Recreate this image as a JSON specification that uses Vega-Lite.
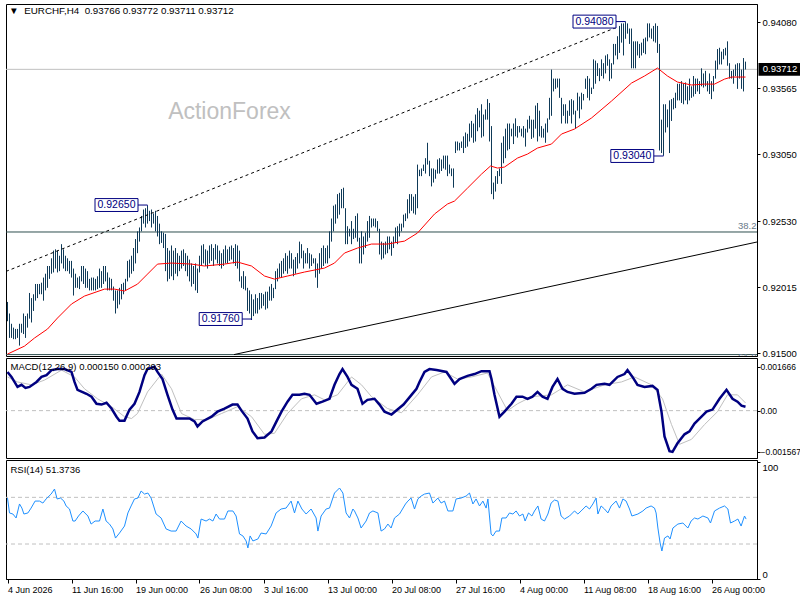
{
  "$schema": "https://vega.github.io/schema/vega-lite/v6.json",
  "background": "white",
  "padding": {"left": 2, "top": 3, "right": 0, "bottom": 0},
  "spacing": 2,
  "bounds": "flush",
  "config": {
    "font": "Liberation Sans",
    "view": {"stroke": "black", "strokeWidth": 1},
    "axis": {"grid": false, "labelFont": "Liberation Sans", "labelFontSize": 9.5, "labelColor": "black", "tickColor": "black", "domainColor": "black", "tickSize": 3, "labelPadding": 2}
  },
  "datasets": {
    "bars": [
      {"i":0,"h":0.9190,"l":0.9175},{"i":1,"h":0.9181,"l":0.9162},{"i":2,"h":0.9173,"l":0.9162},{"i":3,"h":0.9170,"l":0.9161},{"i":4,"h":0.9169,"l":0.9161},
      {"i":5,"h":0.9169,"l":0.9162},{"i":6,"h":0.9173,"l":0.9156},{"i":7,"h":0.9173,"l":0.9166},{"i":8,"h":0.9181,"l":0.9165},{"i":9,"h":0.9179,"l":0.9162},
      {"i":10,"h":0.9181,"l":0.9170},{"i":11,"h":0.9197,"l":0.9177},{"i":12,"h":0.9193,"l":0.9174},{"i":13,"h":0.9196,"l":0.9183},{"i":14,"h":0.9204,"l":0.9191},
      {"i":15,"h":0.9204,"l":0.9193},{"i":16,"h":0.9204,"l":0.9196},{"i":17,"h":0.9205,"l":0.9196},{"i":18,"h":0.9209,"l":0.9191},{"i":19,"h":0.9212,"l":0.9199},
      {"i":20,"h":0.9218,"l":0.9201},{"i":21,"h":0.9218,"l":0.9208},{"i":22,"h":0.9224,"l":0.9212},{"i":23,"h":0.9230,"l":0.9213},{"i":24,"h":0.9231,"l":0.9216},
      {"i":25,"h":0.9230,"l":0.9213},{"i":26,"h":0.9226,"l":0.9214},{"i":27,"h":0.9235,"l":0.9220},{"i":28,"h":0.9231,"l":0.9216},{"i":29,"h":0.9226,"l":0.9214},
      {"i":30,"h":0.9224,"l":0.9214},{"i":31,"h":0.9222,"l":0.9212},{"i":32,"h":0.9222,"l":0.9209},{"i":33,"h":0.9216,"l":0.9195},{"i":34,"h":0.9212,"l":0.9201},
      {"i":35,"h":0.9209,"l":0.9201},{"i":36,"h":0.9210,"l":0.9200},{"i":37,"h":0.9218,"l":0.9206},{"i":38,"h":0.9218,"l":0.9204},{"i":39,"h":0.9216,"l":0.9201},
      {"i":40,"h":0.9214,"l":0.9201},{"i":41,"h":0.9208,"l":0.9199},{"i":42,"h":0.9209,"l":0.9199},{"i":43,"h":0.9209,"l":0.9199},{"i":44,"h":0.9208,"l":0.9199},
      {"i":45,"h":0.9210,"l":0.9200},{"i":46,"h":0.9216,"l":0.9201},{"i":47,"h":0.9214,"l":0.9201},{"i":48,"h":0.9218,"l":0.9204},{"i":49,"h":0.9218,"l":0.9206},
      {"i":50,"h":0.9213,"l":0.9199},{"i":51,"h":0.9209,"l":0.9199},{"i":52,"h":0.9208,"l":0.9199},{"i":53,"h":0.9202,"l":0.9191},{"i":54,"h":0.9199,"l":0.9181},
      {"i":55,"h":0.9199,"l":0.9185},{"i":56,"h":0.9201,"l":0.9188},{"i":57,"h":0.9204,"l":0.9192},{"i":58,"h":0.9205,"l":0.9196},{"i":59,"h":0.9208,"l":0.9199},
      {"i":60,"h":0.9222,"l":0.9206},{"i":61,"h":0.9223,"l":0.9209},{"i":62,"h":0.9226,"l":0.9212},{"i":63,"h":0.9232,"l":0.9214},{"i":64,"h":0.9239,"l":0.9220},
      {"i":65,"h":0.9245,"l":0.9228},{"i":66,"h":0.9248,"l":0.9237},{"i":67,"h":0.9257,"l":0.9245},{"i":68,"h":0.9262,"l":0.9251},{"i":69,"h":0.9263,"l":0.9248},
      {"i":70,"h":0.9265,"l":0.9251},{"i":71,"h":0.9261,"l":0.9253},{"i":72,"h":0.9262,"l":0.9248},{"i":73,"h":0.9259,"l":0.9251},{"i":74,"h":0.9261,"l":0.9245},
      {"i":75,"h":0.9257,"l":0.9241},{"i":76,"h":0.9251,"l":0.9235},{"i":77,"h":0.9245,"l":0.9236},{"i":78,"h":0.9244,"l":0.9232},{"i":79,"h":0.9243,"l":0.9214},
      {"i":80,"h":0.9232,"l":0.9206},{"i":81,"h":0.9230,"l":0.9208},{"i":82,"h":0.9234,"l":0.9210},{"i":83,"h":0.9230,"l":0.9207},{"i":84,"h":0.9232,"l":0.9212},
      {"i":85,"h":0.9228,"l":0.9210},{"i":86,"h":0.9226,"l":0.9214},{"i":87,"h":0.9230,"l":0.9216},{"i":88,"h":0.9231,"l":0.9218},{"i":89,"h":0.9228,"l":0.9214},
      {"i":90,"h":0.9226,"l":0.9210},{"i":91,"h":0.9223,"l":0.9206},{"i":92,"h":0.9220,"l":0.9202},{"i":93,"h":0.9218,"l":0.9204},{"i":94,"h":0.9220,"l":0.9199},
      {"i":95,"h":0.9216,"l":0.9197},{"i":96,"h":0.9226,"l":0.9213},{"i":97,"h":0.9234,"l":0.9218},{"i":98,"h":0.9235,"l":0.9220},{"i":99,"h":0.9231,"l":0.9218},
      {"i":100,"h":0.9230,"l":0.9216},{"i":101,"h":0.9234,"l":0.9220},{"i":102,"h":0.9235,"l":0.9222},{"i":103,"h":0.9232,"l":0.9218},{"i":104,"h":0.9235,"l":0.9223},
      {"i":105,"h":0.9234,"l":0.9220},{"i":106,"h":0.9230,"l":0.9218},{"i":107,"h":0.9228,"l":0.9216},{"i":108,"h":0.9231,"l":0.9218},{"i":109,"h":0.9234,"l":0.9220},
      {"i":110,"h":0.9231,"l":0.9220},{"i":111,"h":0.9233,"l":0.9222},{"i":112,"h":0.9234,"l":0.9223},{"i":113,"h":0.9232,"l":0.9220},{"i":114,"h":0.9235,"l":0.9218},
      {"i":115,"h":0.9234,"l":0.9216},{"i":116,"h":0.9230,"l":0.9206},{"i":117,"h":0.9210,"l":0.9201},{"i":118,"h":0.9214,"l":0.9200},{"i":119,"h":0.9210,"l":0.9199},
      {"i":120,"h":0.9201,"l":0.9183},{"i":121,"h":0.9199,"l":0.9181},{"i":122,"h":0.9196,"l":0.9176},{"i":123,"h":0.9192,"l":0.9179},{"i":124,"h":0.9196,"l":0.9181},
      {"i":125,"h":0.9193,"l":0.9181},{"i":126,"h":0.9197,"l":0.9184},{"i":127,"h":0.9197,"l":0.9185},{"i":128,"h":0.9196,"l":0.9187},{"i":129,"h":0.9198,"l":0.9184},
      {"i":130,"h":0.9198,"l":0.9185},{"i":131,"h":0.9202,"l":0.9191},{"i":132,"h":0.9204,"l":0.9191},{"i":133,"h":0.9201,"l":0.9193},{"i":134,"h":0.9214,"l":0.9200},
      {"i":135,"h":0.9216,"l":0.9206},{"i":136,"h":0.9220,"l":0.9209},{"i":137,"h":0.9222,"l":0.9209},{"i":138,"h":0.9224,"l":0.9212},{"i":139,"h":0.9228,"l":0.9214},
      {"i":140,"h":0.9226,"l":0.9212},{"i":141,"h":0.9230,"l":0.9216},{"i":142,"h":0.9228,"l":0.9216},{"i":143,"h":0.9223,"l":0.9210},{"i":144,"h":0.9225,"l":0.9212},
      {"i":145,"h":0.9228,"l":0.9216},{"i":146,"h":0.9237,"l":0.9220},{"i":147,"h":0.9235,"l":0.9224},{"i":148,"h":0.9230,"l":0.9216},{"i":149,"h":0.9228,"l":0.9220},
      {"i":150,"h":0.9232,"l":0.9220},{"i":151,"h":0.9228,"l":0.9216},{"i":152,"h":0.9227,"l":0.9218},{"i":153,"h":0.9224,"l":0.9220},{"i":154,"h":0.9224,"l":0.9209},
      {"i":155,"h":0.9220,"l":0.9201},{"i":156,"h":0.9228,"l":0.9212},{"i":157,"h":0.9232,"l":0.9216},{"i":158,"h":0.9234,"l":0.9218},{"i":159,"h":0.9232,"l":0.9220},
      {"i":160,"h":0.9234,"l":0.9220},{"i":161,"h":0.9245,"l":0.9224},{"i":162,"h":0.9255,"l":0.9237},{"i":163,"h":0.9265,"l":0.9245},{"i":164,"h":0.9266,"l":0.9251},
      {"i":165,"h":0.9274,"l":0.9255},{"i":166,"h":0.9275,"l":0.9258},{"i":167,"h":0.9278,"l":0.9263},{"i":168,"h":0.9279,"l":0.9263},{"i":169,"h":0.9263,"l":0.9235},
      {"i":170,"h":0.9249,"l":0.9235},{"i":171,"h":0.9247,"l":0.9241},{"i":172,"h":0.9253,"l":0.9235},{"i":173,"h":0.9247,"l":0.9239},{"i":174,"h":0.9257,"l":0.9240},
      {"i":175,"h":0.9259,"l":0.9237},{"i":176,"h":0.9240,"l":0.9220},{"i":177,"h":0.9245,"l":0.9220},{"i":178,"h":0.9241,"l":0.9227},{"i":179,"h":0.9244,"l":0.9232},
      {"i":180,"h":0.9253,"l":0.9237},{"i":181,"h":0.9257,"l":0.9240},{"i":182,"h":0.9255,"l":0.9248},{"i":183,"h":0.9255,"l":0.9249},{"i":184,"h":0.9255,"l":0.9248},
      {"i":185,"h":0.9253,"l":0.9245},{"i":186,"h":0.9247,"l":0.9227},{"i":187,"h":0.9237,"l":0.9223},{"i":188,"h":0.9236,"l":0.9224},{"i":189,"h":0.9237,"l":0.9227},
      {"i":190,"h":0.9241,"l":0.9228},{"i":191,"h":0.9241,"l":0.9231},{"i":192,"h":0.9237,"l":0.9226},{"i":193,"h":0.9241,"l":0.9232},{"i":194,"h":0.9248,"l":0.9236},
      {"i":195,"h":0.9249,"l":0.9235},{"i":196,"h":0.9251,"l":0.9241},{"i":197,"h":0.9251,"l":0.9245},{"i":198,"h":0.9258,"l":0.9248},{"i":199,"h":0.9259,"l":0.9253},
      {"i":200,"h":0.9270,"l":0.9255},{"i":201,"h":0.9274,"l":0.9259},{"i":202,"h":0.9274,"l":0.9261},{"i":203,"h":0.9272,"l":0.9259},{"i":204,"h":0.9274,"l":0.9258},
      {"i":205,"h":0.9297,"l":0.9263},{"i":206,"h":0.9293,"l":0.9288},{"i":207,"h":0.9294,"l":0.9288},{"i":208,"h":0.9297,"l":0.9292},{"i":209,"h":0.9302,"l":0.9290},
      {"i":210,"h":0.9314,"l":0.9297},{"i":211,"h":0.9300,"l":0.9288},{"i":212,"h":0.9294,"l":0.9280},{"i":213,"h":0.9294,"l":0.9283},{"i":214,"h":0.9293,"l":0.9286},
      {"i":215,"h":0.9301,"l":0.9290},{"i":216,"h":0.9302,"l":0.9290},{"i":217,"h":0.9301,"l":0.9292},{"i":218,"h":0.9304,"l":0.9294},{"i":219,"h":0.9304,"l":0.9293},
      {"i":220,"h":0.9304,"l":0.9288},{"i":221,"h":0.9297,"l":0.9290},{"i":222,"h":0.9294,"l":0.9288},{"i":223,"h":0.9294,"l":0.9279},{"i":224,"h":0.9315,"l":0.9306},
      {"i":225,"h":0.9315,"l":0.9308},{"i":226,"h":0.9314,"l":0.9308},{"i":227,"h":0.9315,"l":0.9310},{"i":228,"h":0.9319,"l":0.9306},{"i":229,"h":0.9322,"l":0.9310},
      {"i":230,"h":0.9321,"l":0.9311},{"i":231,"h":0.9329,"l":0.9315},{"i":232,"h":0.9331,"l":0.9318},{"i":233,"h":0.9329,"l":0.9314},{"i":234,"h":0.9336,"l":0.9315},
      {"i":235,"h":0.9341,"l":0.9323},{"i":236,"h":0.9339,"l":0.9326},{"i":237,"h":0.9344,"l":0.9318},{"i":238,"h":0.9336,"l":0.9319},{"i":239,"h":0.9340,"l":0.9332},
      {"i":240,"h":0.9348,"l":0.9332},{"i":241,"h":0.9345,"l":0.9315},{"i":242,"h":0.9327,"l":0.9274},{"i":243,"h":0.9283,"l":0.9270},{"i":244,"h":0.9288,"l":0.9276},
      {"i":245,"h":0.9292,"l":0.9282},{"i":246,"h":0.9294,"l":0.9288},{"i":247,"h":0.9314,"l":0.9282},{"i":248,"h":0.9319,"l":0.9298},{"i":249,"h":0.9325,"l":0.9302},
      {"i":250,"h":0.9329,"l":0.9308},{"i":251,"h":0.9329,"l":0.9309},{"i":252,"h":0.9325,"l":0.9319},{"i":253,"h":0.9329,"l":0.9313},{"i":254,"h":0.9333,"l":0.9319},
      {"i":255,"h":0.9327,"l":0.9318},{"i":256,"h":0.9327,"l":0.9322},{"i":257,"h":0.9325,"l":0.9319},{"i":258,"h":0.9327,"l":0.9318},{"i":259,"h":0.9325,"l":0.9311},
      {"i":260,"h":0.9332,"l":0.9322},{"i":261,"h":0.9335,"l":0.9325},{"i":262,"h":0.9332,"l":0.9317},{"i":263,"h":0.9332,"l":0.9318},{"i":264,"h":0.9343,"l":0.9325},
      {"i":265,"h":0.9345,"l":0.9315},{"i":266,"h":0.9339,"l":0.9319},{"i":267,"h":0.9327,"l":0.9318},{"i":268,"h":0.9325,"l":0.9318},{"i":269,"h":0.9329,"l":0.9314},
      {"i":270,"h":0.9333,"l":0.9322},{"i":271,"h":0.9349,"l":0.9332},{"i":272,"h":0.9371,"l":0.9335},{"i":273,"h":0.9364,"l":0.9354},{"i":274,"h":0.9364,"l":0.9356},
      {"i":275,"h":0.9364,"l":0.9357},{"i":276,"h":0.9364,"l":0.9349},{"i":277,"h":0.9349,"l":0.9329},{"i":278,"h":0.9344,"l":0.9335},{"i":279,"h":0.9344,"l":0.9329},
      {"i":280,"h":0.9339,"l":0.9329},{"i":281,"h":0.9347,"l":0.9335},{"i":282,"h":0.9348,"l":0.9329},{"i":283,"h":0.9347,"l":0.9336},{"i":284,"h":0.9339,"l":0.9325},
      {"i":285,"h":0.9353,"l":0.9339},{"i":286,"h":0.9350,"l":0.9333},{"i":287,"h":0.9353,"l":0.9340},{"i":288,"h":0.9352,"l":0.9347},{"i":289,"h":0.9364,"l":0.9356},
      {"i":290,"h":0.9366,"l":0.9349},{"i":291,"h":0.9364,"l":0.9347},{"i":292,"h":0.9357,"l":0.9352},{"i":293,"h":0.9379,"l":0.9356},{"i":294,"h":0.9378,"l":0.9360},
      {"i":295,"h":0.9376,"l":0.9366},{"i":296,"h":0.9372,"l":0.9362},{"i":297,"h":0.9379,"l":0.9366},{"i":298,"h":0.9376,"l":0.9364},{"i":299,"h":0.9382,"l":0.9368},
      {"i":300,"h":0.9383,"l":0.9374},{"i":301,"h":0.9379,"l":0.9362},{"i":302,"h":0.9376,"l":0.9364},{"i":303,"h":0.9391,"l":0.9375},{"i":304,"h":0.9391,"l":0.9382},
      {"i":305,"h":0.9397,"l":0.9379},{"i":306,"h":0.9405,"l":0.9384},{"i":307,"h":0.9407,"l":0.9392},{"i":308,"h":0.9407,"l":0.9382},{"i":309,"h":0.9408,"l":0.9395},
      {"i":310,"h":0.9407,"l":0.9399},{"i":311,"h":0.9403,"l":0.9391},{"i":312,"h":0.9403,"l":0.9372},{"i":313,"h":0.9393,"l":0.9372},{"i":314,"h":0.9393,"l":0.9372},
      {"i":315,"h":0.9393,"l":0.9382},{"i":316,"h":0.9391,"l":0.9380},{"i":317,"h":0.9392,"l":0.9382},{"i":318,"h":0.9395,"l":0.9384},{"i":319,"h":0.9396,"l":0.9383},
      {"i":320,"h":0.9407,"l":0.9393},{"i":321,"h":0.9407,"l":0.9396},{"i":322,"h":0.9403,"l":0.9395},{"i":323,"h":0.9405,"l":0.9393},{"i":324,"h":0.9407,"l":0.9392},
      {"i":325,"h":0.9405,"l":0.9384},{"i":326,"h":0.9391,"l":0.9308},{"i":327,"h":0.9332,"l":0.9306},{"i":328,"h":0.9344,"l":0.9304},{"i":329,"h":0.9344,"l":0.9322},
      {"i":330,"h":0.9340,"l":0.9326},{"i":331,"h":0.9347,"l":0.9306},{"i":332,"h":0.9348,"l":0.9331},{"i":333,"h":0.9349,"l":0.9340},{"i":334,"h":0.9353,"l":0.9341},
      {"i":335,"h":0.9360,"l":0.9347},{"i":336,"h":0.9360,"l":0.9347},{"i":337,"h":0.9362,"l":0.9345},{"i":338,"h":0.9360,"l":0.9344},{"i":339,"h":0.9361,"l":0.9347},
      {"i":340,"h":0.9358,"l":0.9344},{"i":341,"h":0.9364,"l":0.9347},{"i":342,"h":0.9358,"l":0.9349},{"i":343,"h":0.9366,"l":0.9350},{"i":344,"h":0.9364,"l":0.9352},
      {"i":345,"h":0.9364,"l":0.9354},{"i":346,"h":0.9362,"l":0.9352},{"i":347,"h":0.9372,"l":0.9358},{"i":348,"h":0.9368,"l":0.9357},{"i":349,"h":0.9370,"l":0.9358},
      {"i":350,"h":0.9362,"l":0.9354},{"i":351,"h":0.9368,"l":0.9352},{"i":352,"h":0.9362,"l":0.9348},{"i":353,"h":0.9366,"l":0.9354},{"i":354,"h":0.9378,"l":0.9364},
      {"i":355,"h":0.9387,"l":0.9371},{"i":356,"h":0.9388,"l":0.9375},{"i":357,"h":0.9385,"l":0.9375},{"i":358,"h":0.9387,"l":0.9379},{"i":359,"h":0.9388,"l":0.9382},
      {"i":360,"h":0.9393,"l":0.9374},{"i":361,"h":0.9376,"l":0.9364},{"i":362,"h":0.9370,"l":0.9364},{"i":363,"h":0.9371,"l":0.9360},{"i":364,"h":0.9375,"l":0.9366},
      {"i":365,"h":0.9376,"l":0.9356},{"i":366,"h":0.9376,"l":0.9364},{"i":367,"h":0.9371,"l":0.9356},{"i":368,"h":0.9380,"l":0.9354},{"i":369,"h":0.93772,"l":0.93711}
    ],
    "ma": [
      {"i":0,"p":0.91494},{"i":8.5,"p":0.91556},{"i":13.5,"p":0.91619},{"i":20,"p":0.91689},{"i":25,"p":0.91775},{"i":32,"p":0.91884},
      {"i":38.5,"p":0.91946},{"i":48.5,"p":0.92000},{"i":53.5,"p":0.92000},{"i":58.5,"p":0.91985},{"i":65,"p":0.92039},{"i":70,"p":0.92117},
      {"i":75,"p":0.92195},{"i":82,"p":0.92203},{"i":92,"p":0.92195},{"i":98.5,"p":0.92180},{"i":108.5,"p":0.92195},{"i":115,"p":0.92211},
      {"i":122,"p":0.92180},{"i":128.5,"p":0.92102},{"i":133.5,"p":0.92078},{"i":140,"p":0.92102},{"i":148.5,"p":0.92133},{"i":158.5,"p":0.92164},
      {"i":163.5,"p":0.92203},{"i":168.5,"p":0.92281},{"i":175,"p":0.92320},{"i":182,"p":0.92351},{"i":190,"p":0.92351},{"i":198.5,"p":0.92374},
      {"i":205,"p":0.92437},{"i":213.5,"p":0.92585},{"i":220,"p":0.92663},{"i":223.5,"p":0.92686},{"i":230,"p":0.92787},{"i":237,"p":0.92896},
      {"i":241.5,"p":0.92959},{"i":245,"p":0.92943},{"i":248.5,"p":0.92951},{"i":255,"p":0.93021},{"i":260,"p":0.93052},{"i":265,"p":0.93099},
      {"i":272,"p":0.93130},{"i":277,"p":0.93208},{"i":283.5,"p":0.93247},{"i":292,"p":0.93333},{"i":302,"p":0.93465},{"i":312,"p":0.93605},
      {"i":318.5,"p":0.93660},{"i":325,"p":0.93722},{"i":330,"p":0.93660},{"i":335,"p":0.93613},{"i":342,"p":0.93590},{"i":348.5,"p":0.93597},
      {"i":353.5,"p":0.93597},{"i":358.5,"p":0.93636},{"i":362,"p":0.93652},{"i":369,"p":0.93652}
    ],
    "macd": [
      {"i":0,"v":0.00147},{"i":2,"v":0.00128},{"i":5,"v":0.0009},{"i":7,"v":0.00098},{"i":9,"v":0.00086},{"i":11,"v":0.0009},{"i":14.5,"v":0.00109},
      {"i":17,"v":0.00128},{"i":19.5,"v":0.00135},{"i":22,"v":0.00154},{"i":25,"v":0.00158},{"i":28.5,"v":0.00158},{"i":32,"v":0.00147},{"i":33.5,"v":0.00109},
      {"i":35,"v":0.00079},{"i":39.5,"v":0.00064},{"i":42,"v":0.00053},{"i":44.5,"v":0.00026},{"i":47,"v":0.00023},{"i":49.5,"v":0.0003},{"i":52,"v":0.00008},
      {"i":54.5,"v":-0.00023},{"i":56,"v":-0.00038},{"i":58.5,"v":-0.00038},{"i":61,"v":0.00004},{"i":63.5,"v":0.00026},{"i":66,"v":0.00071},{"i":68.5,"v":0.00135},
      {"i":70,"v":0.00158},{"i":73.5,"v":0.001666},{"i":75,"v":0.00147},{"i":77.5,"v":0.0012},{"i":80,"v":0.0006},{"i":82.5,"v":0.00004},{"i":84.5,"v":-0.0003},
      {"i":87.5,"v":-0.0003},{"i":91,"v":-0.0003},{"i":93.5,"v":-0.00041},{"i":95,"v":-0.0006},{"i":97.5,"v":-0.00041},{"i":102,"v":-0.00023},{"i":105,"v":-0.00004},
      {"i":108.5,"v":0.00008},{"i":112.5,"v":0.00023},{"i":115,"v":0.00023},{"i":117,"v":0},{"i":120,"v":-0.0003},{"i":122.5,"v":-0.00079},{"i":125,"v":-0.00105},
      {"i":128.5,"v":-0.00102},{"i":132,"v":-0.00079},{"i":134.5,"v":-0.00041},{"i":137,"v":-0.00004},{"i":140,"v":0.00034},{"i":142.5,"v":0.0006},{"i":146,"v":0.0006},
      {"i":148.5,"v":0.00064},{"i":151,"v":0.0006},{"i":154.5,"v":0.00026},{"i":157.5,"v":0.00034},{"i":161,"v":0.00045},{"i":163.5,"v":0.00098},{"i":166,"v":0.00139},
      {"i":167.5,"v":0.00158},{"i":170,"v":0.00128},{"i":172,"v":0.00098},{"i":175,"v":0.00083},{"i":177.5,"v":0.00026},{"i":180,"v":0.00041},{"i":183.5,"v":0.00045},
      {"i":186,"v":0.00023},{"i":188.5,"v":-0.00004},{"i":192,"v":-0.00015},{"i":195,"v":0.00004},{"i":198,"v":0.00023},{"i":202,"v":0.0006},{"i":204.5,"v":0.00083},
      {"i":206,"v":0.00109},{"i":208.5,"v":0.00147},{"i":211,"v":0.00158},{"i":214.5,"v":0.00154},{"i":219.5,"v":0.00147},{"i":223.5,"v":0.00102},{"i":226,"v":0.0012},
      {"i":230,"v":0.00132},{"i":233.5,"v":0.00139},{"i":237,"v":0.0015},{"i":241,"v":0.0015},{"i":242,"v":0.0012},{"i":243.5,"v":0.0006},{"i":246,"v":-0.00023},
      {"i":248.5,"v":-0.00004},{"i":252,"v":0.00026},{"i":254.5,"v":0.00053},{"i":257.5,"v":0.00053},{"i":260,"v":0.00045},{"i":262.5,"v":0.00053},{"i":265,"v":0.00071},
      {"i":267.5,"v":0.00053},{"i":270,"v":0.00045},{"i":272.5,"v":0.0009},{"i":275,"v":0.0012},{"i":277.5,"v":0.00083},{"i":280,"v":0.00071},{"i":283.5,"v":0.00064},
      {"i":288.5,"v":0.00068},{"i":292,"v":0.00083},{"i":294.5,"v":0.00098},{"i":298.5,"v":0.00102},{"i":301,"v":0.00098},{"i":305,"v":0.00128},{"i":308.5,"v":0.00139},
      {"i":310,"v":0.00154},{"i":312.5,"v":0.00128},{"i":315,"v":0.00098},{"i":318.5,"v":0.0009},{"i":322.5,"v":0.00094},{"i":325,"v":0.00079},{"i":327,"v":-0.00004},
      {"i":328.5,"v":-0.00098},{"i":331,"v":-0.00154},{"i":332.5,"v":-0.001567},{"i":335,"v":-0.00124},{"i":338.5,"v":-0.0009},{"i":341,"v":-0.00079},{"i":343.5,"v":-0.00049},
      {"i":347,"v":-0.00023},{"i":349.5,"v":-0.00004},{"i":352.5,"v":0.00004},{"i":356,"v":0.00045},{"i":359.5,"v":0.00079},{"i":362.5,"v":0.00045},{"i":365,"v":0.00034},
      {"i":367,"v":0.00019},{"i":369,"v":0.00015}
    ],
    "sig": [
      {"i":0,"v":0.00128},{"i":5,"v":0.00109},{"i":12,"v":0.00098},{"i":18.5,"v":0.00116},{"i":27,"v":0.00154},{"i":33.5,"v":0.00128},{"i":38.5,"v":0.00083},
      {"i":45,"v":0.00045},{"i":52,"v":0.00015},{"i":58.5,"v":-0.00023},{"i":62,"v":-0.0003},{"i":65,"v":-0.00011},{"i":70,"v":0.00071},{"i":77,"v":0.00139},
      {"i":82,"v":0.00083},{"i":87,"v":-0.00011},{"i":93.5,"v":-0.00034},{"i":100,"v":-0.00034},{"i":107,"v":-0.00011},{"i":115,"v":0.00015},{"i":122,"v":-0.00023},
      {"i":128.5,"v":-0.0009},{"i":133.5,"v":-0.00086},{"i":140,"v":-0.00011},{"i":147,"v":0.00045},{"i":153.5,"v":0.0006},{"i":158.5,"v":0.00041},{"i":165,"v":0.0006},
      {"i":172,"v":0.00128},{"i":177,"v":0.00098},{"i":182,"v":0.00053},{"i":190,"v":0.00008},{"i":197,"v":-0.00008},{"i":205,"v":0.0006},{"i":212,"v":0.00128},
      {"i":218.5,"v":0.00147},{"i":225,"v":0.0012},{"i":232,"v":0.00128},{"i":240,"v":0.00143},{"i":245,"v":0.00071},{"i":250,"v":0},{"i":255,"v":0.00026},
      {"i":262,"v":0.00053},{"i":272,"v":0.0006},{"i":280,"v":0.00098},{"i":288.5,"v":0.00071},{"i":298.5,"v":0.00098},{"i":307,"v":0.00109},{"i":313.5,"v":0.00128},
      {"i":322,"v":0.00098},{"i":327.5,"v":0.00045},{"i":332,"v":-0.00053},{"i":336,"v":-0.00128},{"i":342,"v":-0.00109},{"i":348.5,"v":-0.00053},{"i":355,"v":-0.00004},
      {"i":360,"v":0.0006},{"i":365,"v":0.0006},{"i":369,"v":0.000293}
    ],
    "rsi": [
      {"i":0,"v":69.4},{"i":1,"v":56.6},{"i":2.7,"v":55.7},{"i":4.3,"v":52.3},{"i":6,"v":64.3},{"i":7.2,"v":60.8},{"i":8.2,"v":55.7},{"i":10.2,"v":56.6},
      {"i":11.8,"v":60.8},{"i":13.8,"v":66.8},{"i":16,"v":66.8},{"i":17.7,"v":65.1},{"i":19.3,"v":68.6},{"i":21.8,"v":72.8},{"i":23.5,"v":77.1},{"i":24.8,"v":68.6},
      {"i":26.5,"v":69.4},{"i":28.2,"v":66.8},{"i":29.3,"v":62.6},{"i":31,"v":60},{"i":32.7,"v":49.7},{"i":33.8,"v":49.7},{"i":35.5,"v":54},{"i":37.7,"v":58.3},
      {"i":40.2,"v":54},{"i":41.8,"v":47.1},{"i":43.8,"v":49.7},{"i":46,"v":49.7},{"i":47.7,"v":60},{"i":49.3,"v":49.7},{"i":51,"v":47.1},{"i":52.7,"v":42.9},
      {"i":54,"v":35.1},{"i":56,"v":39.4},{"i":58.5,"v":45.4},{"i":60.2,"v":56.6},{"i":61.8,"v":62.6},{"i":63.5,"v":68.6},{"i":65.2,"v":69.4},{"i":66.8,"v":75.4},
      {"i":68.5,"v":72.8},{"i":70.2,"v":73.7},{"i":71.8,"v":69.4},{"i":74.3,"v":55.7},{"i":76.8,"v":52.3},{"i":79.3,"v":42.9},{"i":81.8,"v":41.1},{"i":84.3,"v":41.1},
      {"i":86.8,"v":49.7},{"i":89.3,"v":45.4},{"i":91.8,"v":42.9},{"i":94.3,"v":38.6},{"i":95.2,"v":35.1},{"i":96.8,"v":51.4},{"i":99.3,"v":49.7},{"i":101,"v":51.4},
      {"i":102.7,"v":49.7},{"i":104.3,"v":55.7},{"i":106,"v":51.4},{"i":108.5,"v":51.4},{"i":110.2,"v":58.3},{"i":112.7,"v":58.3},{"i":114.3,"v":54},{"i":116,"v":38.6},
      {"i":117.7,"v":36.9},{"i":119.3,"v":32.6},{"i":120.2,"v":26.6},{"i":121.3,"v":36.9},{"i":122.7,"v":32.6},{"i":125.2,"v":34.3},{"i":126.8,"v":39.4},{"i":129.3,"v":38.6},
      {"i":131.8,"v":45.4},{"i":134.3,"v":56.6},{"i":136.8,"v":60},{"i":139.3,"v":60.8},{"i":141.8,"v":66.8},{"i":143.5,"v":56.6},{"i":145.2,"v":66.8},{"i":147.2,"v":60},
      {"i":149.3,"v":55.7},{"i":151.8,"v":60},{"i":154.3,"v":52.3},{"i":155.2,"v":41.1},{"i":156.8,"v":54},{"i":159.3,"v":60},{"i":161,"v":60.8},{"i":163.5,"v":73.7},
      {"i":166,"v":78},{"i":167.7,"v":73.7},{"i":169.3,"v":56.6},{"i":171,"v":52.3},{"i":172.7,"v":60},{"i":173.5,"v":58.3},{"i":175.2,"v":52.3},{"i":176.8,"v":43.7},
      {"i":179.3,"v":49.7},{"i":181,"v":56.6},{"i":182.7,"v":58.3},{"i":185.2,"v":56.6},{"i":186.8,"v":41.1},{"i":188.5,"v":42.9},{"i":190.2,"v":47.1},{"i":191.8,"v":43.7},
      {"i":193.5,"v":52.3},{"i":196,"v":55.7},{"i":199,"v":64.3},{"i":200.2,"v":66.8},{"i":201.8,"v":69.4},{"i":203.5,"v":60},{"i":205.2,"v":68.6},{"i":206.8,"v":71.1},
      {"i":208.5,"v":72.8},{"i":211,"v":73.7},{"i":212.7,"v":65.1},{"i":215.2,"v":69.4},{"i":216.8,"v":65.1},{"i":218.5,"v":66.8},{"i":220.2,"v":58.3},{"i":222.7,"v":58.3},
      {"i":224.3,"v":68.6},{"i":226.8,"v":69.4},{"i":229.3,"v":71.1},{"i":231,"v":73.7},{"i":232.7,"v":64.3},{"i":234.3,"v":68.6},{"i":236,"v":62.6},{"i":237.7,"v":66.8},
      {"i":239.3,"v":60.8},{"i":240.2,"v":68.6},{"i":241.8,"v":38.6},{"i":242.7,"v":36.9},{"i":244.3,"v":41.1},{"i":246,"v":41.1},{"i":247.2,"v":52.3},{"i":249.3,"v":52.3},
      {"i":251,"v":56.6},{"i":252.7,"v":55.7},{"i":254.3,"v":58.3},{"i":256,"v":54},{"i":257.7,"v":55.7},{"i":258.8,"v":49.7},{"i":260.5,"v":56.6},{"i":262.2,"v":54},
      {"i":263.5,"v":58.3},{"i":265.2,"v":62.6},{"i":266.8,"v":51.4},{"i":268.5,"v":49.7},{"i":270.2,"v":55.7},{"i":271.8,"v":65.1},{"i":273.5,"v":67.7},{"i":275.2,"v":66.8},
      {"i":276.8,"v":54},{"i":278.5,"v":51.4},{"i":281,"v":54},{"i":283.5,"v":58.3},{"i":285.2,"v":55.7},{"i":286.8,"v":58.3},{"i":289.3,"v":62.6},{"i":291,"v":60},
      {"i":292.7,"v":64.3},{"i":294.3,"v":69.4},{"i":295.2,"v":55.7},{"i":296.8,"v":62.6},{"i":298.5,"v":60},{"i":300.2,"v":56.6},{"i":301.8,"v":62.6},{"i":304.3,"v":66.8},
      {"i":306,"v":60.8},{"i":307.7,"v":68.6},{"i":309.3,"v":66.8},{"i":311,"v":60},{"i":312.2,"v":54},{"i":315.2,"v":55.7},{"i":317.7,"v":58.3},{"i":319.3,"v":60.8},
      {"i":321.8,"v":62.6},{"i":323.5,"v":60.8},{"i":324.3,"v":56.6},{"i":325.2,"v":43.7},{"i":326.3,"v":30.9},{"i":327.2,"v":24},{"i":328.5,"v":35.1},{"i":330.2,"v":36.9},
      {"i":331.3,"v":34.3},{"i":332.7,"v":43.7},{"i":335.2,"v":47.1},{"i":337.7,"v":48},{"i":340.2,"v":43.7},{"i":341.8,"v":49.7},{"i":343.5,"v":52.3},{"i":345.2,"v":51.4},
      {"i":347.7,"v":54},{"i":350.2,"v":52.3},{"i":351.5,"v":48},{"i":353.5,"v":58.3},{"i":356,"v":60.8},{"i":358.5,"v":62.6},{"i":360.2,"v":60},{"i":361.5,"v":48},
      {"i":363.5,"v":49.7},{"i":365.2,"v":51.4},{"i":366.8,"v":45.4},{"i":368.5,"v":54},{"i":369.3,"v":51.37}
    ],
    "tags": [
      {"t":"0.92650","bi":54.5,"bp":0.92655,"i":70,"p":0.9265},
      {"t":"0.91760","bi":106.6,"bp":0.91767,"i":122,"p":0.9176},
      {"t":"0.94080","bi":293.5,"bp":0.94084,"i":309,"p":0.9408},
      {"t":"0.93040","bi":312.4,"bp":0.93037,"i":328,"p":0.9304}
    ]
  },
  "vconcat": [
    {
      "width": 751,
      "height": 352,
      "layer": [
        {
          "data": {"values": [{"i": 111, "p": 0.93379, "t": "ActionForex"}]},
          "mark": {"type": "text", "fontSize": 23, "color": "#c0c0c0", "align": "center", "baseline": "middle"},
          "encoding": {
            "x": {"field": "i", "type": "quantitative", "title": null, "scale": {"domain": [-0.75, 374.75], "nice": false, "zero": false}, "axis": null},
            "y": {"field": "p", "type": "quantitative", "title": null, "scale": {"domain": [0.91479, 0.94221], "nice": false, "zero": false},
              "axis": {"orient": "right", "values": [0.915, 0.91755, 0.92015, 0.92275, 0.9253, 0.9279, 0.9305, 0.93305, 0.93565, 0.93825, 0.9408], "format": ".5f"}},
            "text": {"field": "t"}
          }
        },
        {
          "data": {"values": [{"p": 0.93712}]},
          "mark": {"type": "rule", "color": "#c0c0c0", "strokeWidth": 1},
          "encoding": {"y": {"field": "p", "type": "quantitative", "title": null, "scale": {"domain": [0.91479, 0.94221], "nice": false, "zero": false}}}
        },
        {
          "data": {"values": [{"p": 0.92445}, {"p": 0.9149}]},
          "mark": {"type": "rule", "color": "#2f4f4f", "strokeWidth": 1},
          "encoding": {"y": {"field": "p", "type": "quantitative", "title": null, "scale": {"domain": [0.91479, 0.94221], "nice": false, "zero": false}}}
        },
        {
          "data": {"values": [{"i": 374.5, "p": 0.92445, "t": "38.2"}]},
          "mark": {"type": "text", "fontSize": 9.5, "color": "#6a7a8a", "align": "right", "baseline": "bottom", "dy": -1},
          "encoding": {
            "x": {"field": "i", "type": "quantitative", "title": null, "scale": {"domain": [-0.75, 374.75], "nice": false, "zero": false}, "axis": null},
            "y": {"field": "p", "type": "quantitative", "title": null, "scale": {"domain": [0.91479, 0.94221], "nice": false, "zero": false}},
            "text": {"field": "t"}
          }
        },
        {
          "data": {"values": [{"i": 374.5, "p": 0.91514, "t": "61.8"}]},
          "mark": {"type": "text", "fontSize": 9.5, "color": "#6a7a8a", "align": "right", "baseline": "top", "clip": true},
          "encoding": {
            "x": {"field": "i", "type": "quantitative", "title": null, "scale": {"domain": [-0.75, 374.75], "nice": false, "zero": false}, "axis": null},
            "y": {"field": "p", "type": "quantitative", "title": null, "scale": {"domain": [0.91479, 0.94221], "nice": false, "zero": false}},
            "text": {"field": "t"}
          }
        },
        {
          "data": {"name": "bars"},
          "mark": {"type": "rule", "color": "#0f3a58", "strokeWidth": 1},
          "encoding": {
            "x": {"field": "i", "type": "quantitative", "title": null, "scale": {"domain": [-0.75, 374.75], "nice": false, "zero": false}, "axis": null},
            "y": {"field": "h", "type": "quantitative", "title": null, "scale": {"domain": [0.91479, 0.94221], "nice": false, "zero": false}},
            "y2": {"field": "l"}
          }
        },
        {
          "data": {"name": "ma"},
          "mark": {"type": "line", "color": "#ff0000", "strokeWidth": 1},
          "encoding": {
            "x": {"field": "i", "type": "quantitative", "title": null, "scale": {"domain": [-0.75, 374.75], "nice": false, "zero": false}, "axis": null},
            "y": {"field": "p", "type": "quantitative", "title": null, "scale": {"domain": [0.91479, 0.94221], "nice": false, "zero": false}}
          }
        },
        {
          "data": {"values": [{"i": -0.75, "p": 0.92138}, {"i": 305.5, "p": 0.94045}]},
          "mark": {"type": "line", "color": "black", "strokeWidth": 1, "strokeDash": [3, 3], "clip": true},
          "encoding": {
            "x": {"field": "i", "type": "quantitative", "title": null, "scale": {"domain": [-0.75, 374.75], "nice": false, "zero": false}, "axis": null},
            "y": {"field": "p", "type": "quantitative", "title": null, "scale": {"domain": [0.91479, 0.94221], "nice": false, "zero": false}}
          }
        },
        {
          "data": {"values": [{"i": 113.25, "p": 0.9149}, {"i": 374.75, "p": 0.92367}]},
          "mark": {"type": "line", "color": "black", "strokeWidth": 1, "clip": true},
          "encoding": {
            "x": {"field": "i", "type": "quantitative", "title": null, "scale": {"domain": [-0.75, 374.75], "nice": false, "zero": false}, "axis": null},
            "y": {"field": "p", "type": "quantitative", "title": null, "scale": {"domain": [0.91479, 0.94221], "nice": false, "zero": false}}
          }
        },
        {
          "data": {"name": "tags"},
          "mark": {"type": "rule", "color": "#000080", "strokeWidth": 1},
          "encoding": {
            "x": {"field": "bi", "type": "quantitative", "title": null, "scale": {"domain": [-0.75, 374.75], "nice": false, "zero": false}, "axis": null},
            "x2": {"field": "i"},
            "y": {"field": "bp", "type": "quantitative", "title": null, "scale": {"domain": [0.91479, 0.94221], "nice": false, "zero": false}}
          }
        },
        {
          "data": {"name": "tags"},
          "mark": {"type": "rule", "color": "#000080", "strokeWidth": 1},
          "encoding": {
            "x": {"field": "i", "type": "quantitative", "title": null, "scale": {"domain": [-0.75, 374.75], "nice": false, "zero": false}, "axis": null},
            "y": {"field": "bp", "type": "quantitative", "title": null, "scale": {"domain": [0.91479, 0.94221], "nice": false, "zero": false}},
            "y2": {"field": "p"}
          }
        },
        {
          "data": {"name": "tags"},
          "mark": {"type": "point", "shape": "M-1,-0.3L1,-0.3L1,0.3L-1,0.3Z", "size": 1849, "filled": true, "fill": "white", "stroke": "#000080", "strokeWidth": 1, "opacity": 1},
          "encoding": {
            "x": {"field": "bi", "type": "quantitative", "title": null, "scale": {"domain": [-0.75, 374.75], "nice": false, "zero": false}, "axis": null},
            "y": {"field": "bp", "type": "quantitative", "title": null, "scale": {"domain": [0.91479, 0.94221], "nice": false, "zero": false}}
          }
        },
        {
          "data": {"name": "tags"},
          "mark": {"type": "text", "fontSize": 10.5, "color": "#000080", "align": "center", "baseline": "middle"},
          "encoding": {
            "x": {"field": "bi", "type": "quantitative", "title": null, "scale": {"domain": [-0.75, 374.75], "nice": false, "zero": false}, "axis": null},
            "y": {"field": "bp", "type": "quantitative", "title": null, "scale": {"domain": [0.91479, 0.94221], "nice": false, "zero": false}},
            "text": {"field": "t"}
          }
        },
        {
          "data": {"values": [{"i": 386.25, "p": 0.93712, "t": "0.93712"}]},
          "mark": {"type": "point", "shape": "M-1,-0.3L1,-0.3L1,0.3L-1,0.3Z", "size": 1849, "filled": true, "fill": "black", "strokeWidth": 0, "opacity": 1},
          "encoding": {
            "x": {"field": "i", "type": "quantitative", "title": null, "scale": {"domain": [-0.75, 374.75], "nice": false, "zero": false}, "axis": null},
            "y": {"field": "p", "type": "quantitative", "title": null, "scale": {"domain": [0.91479, 0.94221], "nice": false, "zero": false}}
          }
        },
        {
          "data": {"values": [{"i": 386.25, "p": 0.93712, "t": "0.93712"}]},
          "mark": {"type": "text", "fontSize": 9.5, "color": "white", "align": "center", "baseline": "middle"},
          "encoding": {
            "x": {"field": "i", "type": "quantitative", "title": null, "scale": {"domain": [-0.75, 374.75], "nice": false, "zero": false}, "axis": null},
            "y": {"field": "p", "type": "quantitative", "title": null, "scale": {"domain": [0.91479, 0.94221], "nice": false, "zero": false}},
            "text": {"field": "t"}
          }
        },
        {
          "data": {"values": [{"i": 0.8, "p": 0.94166, "t": "▼\u00a0 EURCHF,H4\u00a0 0.93766 0.93772 0.93711 0.93712"}]},
          "mark": {"type": "text", "fontSize": 9.8, "color": "black", "align": "left", "baseline": "middle"},
          "encoding": {
            "x": {"field": "i", "type": "quantitative", "title": null, "scale": {"domain": [-0.75, 374.75], "nice": false, "zero": false}, "axis": null},
            "y": {"field": "p", "type": "quantitative", "title": null, "scale": {"domain": [0.91479, 0.94221], "nice": false, "zero": false}},
            "text": {"field": "t"}
          }
        }
      ]
    },
    {
      "width": 751,
      "height": 100,
      "layer": [
        {
          "data": {"values": [{"v": 0}]},
          "mark": {"type": "rule", "color": "#c0c0c0", "strokeWidth": 1, "strokeDash": [4, 3]},
          "encoding": {
            "y": {"field": "v", "type": "quantitative", "title": null, "scale": {"domain": [-0.0018, 0.002], "nice": false, "zero": false},
              "axis": {"orient": "right", "values": [0.001666, 0, -0.001567], "labelFontSize": 8.5, "labelPadding": 0, "tickSize": 3, "labelExpr": "datum.value == 0 ? '0.00' : format(datum.value, '.6f')"}}
          }
        },
        {
          "data": {"name": "sig"},
          "mark": {"type": "line", "color": "#c0c0c0", "strokeWidth": 1},
          "encoding": {
            "x": {"field": "i", "type": "quantitative", "title": null, "scale": {"domain": [-0.75, 374.75], "nice": false, "zero": false}, "axis": null},
            "y": {"field": "v", "type": "quantitative", "title": null, "scale": {"domain": [-0.0018, 0.002], "nice": false, "zero": false}}
          }
        },
        {
          "data": {"name": "macd"},
          "mark": {"type": "line", "color": "#000080", "strokeWidth": 2.5},
          "encoding": {
            "x": {"field": "i", "type": "quantitative", "title": null, "scale": {"domain": [-0.75, 374.75], "nice": false, "zero": false}, "axis": null},
            "y": {"field": "v", "type": "quantitative", "title": null, "scale": {"domain": [-0.0018, 0.002], "nice": false, "zero": false}}
          }
        },
        {
          "data": {"values": [{"i": 1.5, "v": 0.00166, "t": "MACD(12,26,9) 0.000150 0.000293"}]},
          "mark": {"type": "text", "fontSize": 9.5, "color": "black", "align": "left", "baseline": "middle"},
          "encoding": {
            "x": {"field": "i", "type": "quantitative", "title": null, "scale": {"domain": [-0.75, 374.75], "nice": false, "zero": false}, "axis": null},
            "y": {"field": "v", "type": "quantitative", "title": null, "scale": {"domain": [-0.0018, 0.002], "nice": false, "zero": false}},
            "text": {"field": "t"}
          }
        }
      ]
    },
    {
      "width": 751,
      "height": 119,
      "layer": [
        {
          "data": {"values": [{"v": 30}, {"v": 70}]},
          "mark": {"type": "rule", "color": "#c0c0c0", "strokeWidth": 1, "strokeDash": [4, 3]},
          "encoding": {
            "y": {"field": "v", "type": "quantitative", "title": null, "scale": {"domain": [0, 102], "nice": false, "zero": false},
              "axis": {"orient": "right", "values": [0, 30, 70, 100],
                "labelBaseline": {"condition": [{"test": "datum.value == 0", "value": "bottom"}, {"test": "datum.value == 100", "value": "top"}], "value": "middle"}}}
          }
        },
        {
          "data": {"name": "rsi"},
          "mark": {"type": "line", "color": "#1e90ff", "strokeWidth": 1},
          "encoding": {
            "x": {"field": "i", "type": "quantitative", "title": null, "scale": {"domain": [-0.75, 374.75], "nice": false, "zero": false},
              "axis": {"values": [0, 32, 64, 96, 128, 160, 192, 224, 256, 288, 320, 352], "labelAlign": "left", "labelFlush": false, "labelFontSize": 9, "tickSize": 4, "labelPadding": 2, "labelOffset": 0,
                "labelExpr": "['4 Jun 2026','11 Jun 16:00','19 Jun 00:00','26 Jun 08:00','3 Jul 16:00','13 Jul 00:00','20 Jul 08:00','27 Jul 16:00','4 Aug 00:00','11 Aug 08:00','18 Aug 16:00','26 Aug 00:00'][round(datum.value / 32)]"}},
            "y": {"field": "v", "type": "quantitative", "title": null, "scale": {"domain": [0, 102], "nice": false, "zero": false}}
          }
        },
        {
          "data": {"values": [{"i": 1.5, "v": 93.4, "t": "RSI(14) 51.3736"}]},
          "mark": {"type": "text", "fontSize": 9.5, "color": "black", "align": "left", "baseline": "middle"},
          "encoding": {
            "x": {"field": "i", "type": "quantitative", "title": null, "scale": {"domain": [-0.75, 374.75], "nice": false, "zero": false}},
            "y": {"field": "v", "type": "quantitative", "title": null, "scale": {"domain": [0, 102], "nice": false, "zero": false}},
            "text": {"field": "t"}
          }
        }
      ]
    }
  ]
}
